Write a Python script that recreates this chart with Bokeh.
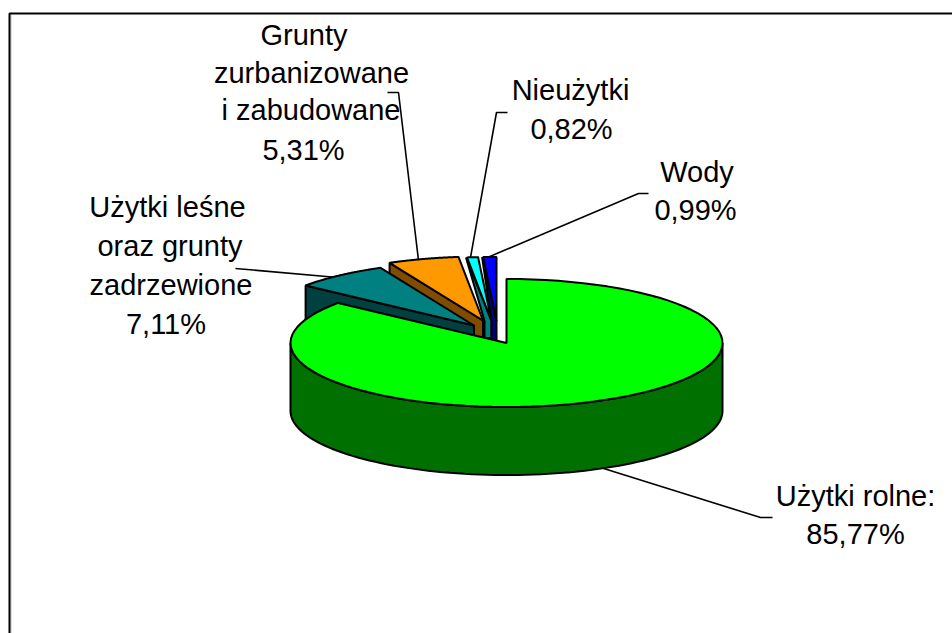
import numpy as np
from bokeh.plotting import figure
from bokeh.models import Range1d
from bokeh.embed import file_html
from bokeh.resources import INLINE
from bokeh.core.properties import value

# data
categories = ["Użytki rolne:", "Użytki leśne oraz grunty zadrzewione", "Grunty zurbanizowane i zabudowane", "Nieużytki", "Wody"]
shares = [85.77, 7.11, 5.31, 0.82, 0.99]
share_labels = ["85,77%", "7,11%", "5,31%", "0,82%", "0,99%"]

top_colors = ["#00FF00", "#008080", "#FF9900", "#00FFFF", "#0000FF"]
wall_colors = ["#007000", "#004040", "#804D00", "#008080", "#000080"]

# layout (page pixels)
W, H = 952, 633
RX, RY, DEPTH = 216.0, 64.0, 68.0
apex = [(506, 342.5), (473.5, 325), (482.5, 320), (491, 320.5), (496, 320.5)]
strip = [None, None, None, (7, 17), (5, 19)]
draw_order = [3, 4, 2, 1, 0]

# text, centre x, middle y
label_lines = [
    ("Użytki rolne:", 855, 495), ("85,77%", 855, 533),
    ("Użytki leśne", 167, 206), ("oraz grunty", 169.5, 245), ("zadrzewione", 170.5, 284), ("7,11%", 165.5, 323),
    ("Grunty", 303.5, 34), ("zurbanizowane", 311, 72), ("i zabudowane", 310.5, 109), ("5,31%", 303, 149),
    ("Nieużytki", 570, 89), ("0,82%", 571, 128),
    ("Wody", 696.5, 171), ("0,99%", 695, 209),
]
leaders = [
    ([772, 760, 600], [517, 517, 467]),
    ([235, 337], [268, 277]),
    ([387, 398, 418], [92, 92, 260]),
    ([507, 496, 470], [112, 112, 257]),
    ([648, 638, 487], [193, 193, 257]),
]

p = figure(width=W, height=H, output_backend="svg", toolbar_location=None,
           x_range=Range1d(0, W), y_range=Range1d(H, 0),
           x_axis_type=None, y_axis_type=None, min_border=0,
           background_fill_color="white", border_fill_color="white")
p.grid.visible = False
p.outline_line_color = None

# frame
p.line([10.5, 10.5], [14, H], line_color="#BDBDBD", line_width=1)
p.line([9, 9, W], [H, 13, 13], line_color="black", line_width=2)

# leader lines behind the pie
for xs, ys in leaders:
    p.line(xs, ys, line_color="black", line_width=1.6)

edges = np.concatenate([[0], np.cumsum(shares)]) * 3.6  # degrees clockwise from 12 o'clock


def rim(ax, ay, a0, a1, n=90):
    t = np.radians(np.linspace(a0, a1, n))
    return ax + RX * np.sin(t), ay - RY * np.cos(t)


for i in draw_order:
    a0, a1 = edges[i], edges[i + 1]
    ax, ay = apex[i]
    rx, ry = rim(ax, ay, a0, a1)
    if i == 0:
        # front wall of the big slice
        fx, fy = rim(ax, ay, 90, 270)
        p.patch(np.r_[fx, fx[::-1]], np.r_[fy, fy[::-1] + DEPTH],
                fill_color=wall_colors[i], line_color="black", line_width=2)
    else:
        lx, ly = rx[0], ry[0]
        if strip[i] is None:
            p.patch([lx, ax, ax, lx], [ly, ay, ay + DEPTH, ly + DEPTH],
                    fill_color=wall_colors[i], line_color="black", line_width=2)
        else:
            w, h = strip[i]
            p.patch([lx - 1, ax, ax, ax - w, ax - w], [ly, ay, ay + h, ay + h, ay],
                    fill_color=wall_colors[i], line_color="black", line_width=2)
    p.patch(np.r_[ax, rx], np.r_[ay, ry], fill_color=top_colors[i],
            line_color="black", line_width=2)

# labels
p.text([c for _, c, _ in label_lines], [b for _, _, b in label_lines],
       text=[t for t, _, _ in label_lines], text_align="center", text_baseline="middle",
       text_font=value("Liberation Sans"), text_font_size="29px", text_color="black")

open("out.html", "w").write(file_html(p, INLINE))
